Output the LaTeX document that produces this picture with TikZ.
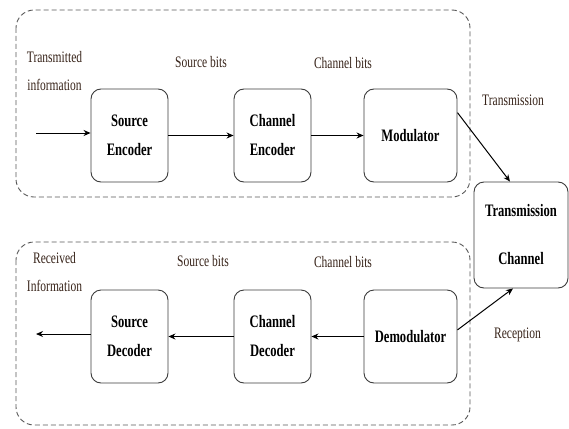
\documentclass[tikz,border=0pt]{standalone}
\usepackage{fontspec}
\setmainfont{Liberation Serif}
\newfontfamily\narrowfont[FakeStretch=0.72]{Liberation Serif}
\usetikzlibrary{calc,arrows.meta}
\definecolor{boxcol}{RGB}{60,60,60}
\definecolor{grpcol}{RGB}{90,90,90}
\definecolor{txtcol}{RGB}{55,35,25}
\tikzset{block/.style={draw=boxcol,line width=0.9pt,rounded corners=10pt,minimum width=77pt,minimum height=93pt,inner sep=2pt,align=center,font=\narrowfont\fontsize{17.5}{29}\selectfont\bfseries}}
\tikzset{wide/.style={minimum width=93pt}}
\tikzset{group/.style={draw=grpcol,line width=0.9pt,dash pattern=on 5pt off 3pt,rounded corners=18pt}}
\tikzset{lbl/.style={inner sep=0pt,align=center,text=txtcol,font=\narrowfont\fontsize{16}{28}\selectfont}}
\tikzset{edge/.style={-{Stealth[length=7pt,width=6pt]},line width=1pt,black}}

\begin{document}
\begin{tikzpicture}[x=1pt,y=-1pt]
\useasboundingbox (0,0) rectangle (569,428);
\fill[white] (0,0) rectangle (569,428);

% transmitter and receiver groups
\draw [group] (16,10) rectangle (470,197);
\draw [group] (16,242) rectangle (470,425);

\node [block] (senc) at (129.5,135.5) {Source\\Encoder};
\node [block] (cenc) at (272.5,135.5) {Channel\\Encoder};
\node [block,wide] (mod) at (410.5,135.5) {Modulator};

\node [block,minimum width=94pt,minimum height=106pt] (chan) at (521,235) {Transmission\\[19pt]Channel};

\node [block] (sdec) at (129.5,336.5) {Source\\Decoder};
\node [block] (cdec) at (272.5,336.5) {Channel\\Decoder};
\node [block,wide] (dem) at (410.5,336.5) {Demodulator};

\coordinate (in) at (36,133);
\coordinate (out) at (36,334);

\draw [edge] (in) -- (in -| senc.west);
\draw [edge] (senc) -- (cenc);
\draw [edge] (cenc) -- (mod);
\draw [edge] (mod.26) -- ([xshift=-11pt]chan.north);

\draw [edge] (dem.8) -- ([xshift=-8pt]chan.south);
\draw [edge] (dem) -- (cdec);
\draw [edge] (cdec) -- (sdec);
\draw [edge] (out -| sdec.west) -- (out);

\node [lbl] (tinfo) at (54.5,71) {Transmitted\\information};
\node [lbl] (sbits1) at (201,62) {Source bits};
\node [lbl] (cbits1) at (343,63) {Channel bits};
\node [lbl] (trans) at (513,100) {Transmission};

\node [lbl] (rinfo) at (54.5,272.5) {Received\\Information};
\node [lbl] (sbits2) at (203,261) {Source bits};
\node [lbl] (cbits2) at (343,262) {Channel bits};
\node [lbl] (recep) at (517.5,335) {Reception};
\end{tikzpicture}
\end{document}
